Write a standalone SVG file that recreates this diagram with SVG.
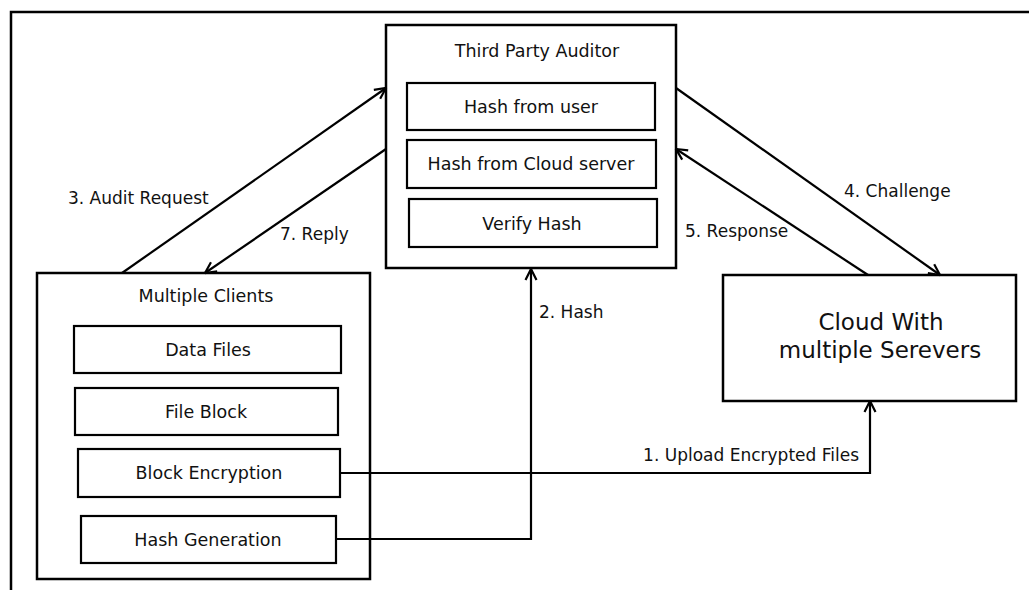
<svg xmlns="http://www.w3.org/2000/svg" width="1029" height="590" viewBox="0 0 1029 590">
<style>
.box{fill:#fff;stroke:#000;stroke-width:2.5}
.inner{fill:#fff;stroke:#000;stroke-width:2.2}
.t{font-family:"DejaVu Sans",Verdana,sans-serif;font-size:17.5px;fill:#111;text-anchor:middle}
.lbl{font-family:"DejaVu Sans",Verdana,sans-serif;font-size:17px;fill:#111}
.big{font-family:"DejaVu Sans",Verdana,sans-serif;font-size:23px;fill:#111;text-anchor:middle}
.c{fill:none;stroke:#000;stroke-width:2.2}
</style>
<defs>
<marker id="arr" viewBox="0 0 14 14" refX="13" refY="7" markerWidth="14" markerHeight="14" markerUnits="userSpaceOnUse" orient="auto">
<path d="M2,1.5 L13,7 L2,12.5" fill="none" stroke="#000" stroke-width="2.2"/>
</marker>
</defs>
<rect width="1029" height="590" fill="#fff"/>
<path d="M11,590 V12 H1029" fill="none" stroke="#000" stroke-width="2.5"/>

<g id="tpa">
<rect class="box" x="386" y="25" width="290" height="243"/>
<text class="t" x="537" y="57">Third Party Auditor</text>
<rect class="inner" x="407" y="83" width="248" height="47"/>
<text class="t" x="531" y="113">Hash from user</text>
<rect class="inner" x="407" y="140" width="249" height="48"/>
<text class="t" x="531" y="170">Hash from Cloud server</text>
<rect class="inner" x="409" y="199" width="248" height="48"/>
<text class="t" x="532" y="230">Verify Hash</text>
</g>

<g id="clients">
<rect class="box" x="37" y="273" width="333" height="306"/>
<text class="t" x="206" y="302">Multiple Clients</text>
<rect class="inner" x="74" y="326" width="267" height="47"/>
<text class="t" x="208" y="356">Data Files</text>
<rect class="inner" x="75" y="388" width="263" height="47"/>
<text class="t" x="206" y="418">File Block</text>
<rect class="inner" x="78" y="449" width="262" height="48"/>
<text class="t" x="209" y="479">Block Encryption</text>
<rect class="inner" x="81" y="516" width="255" height="47"/>
<text class="t" x="208" y="546">Hash Generation</text>
</g>

<g id="cloud">
<rect class="box" x="723" y="275" width="293" height="126"/>
<text class="big" x="881" y="330">Cloud With</text>
<text class="big" x="880" y="358">multiple Serevers</text>
</g>

<g id="connectors">
<line class="c" x1="122" y1="273" x2="386" y2="88" marker-end="url(#arr)"/>
<line class="c" x1="386" y1="149" x2="205" y2="273" marker-end="url(#arr)"/>
<line class="c" x1="676" y1="88" x2="940" y2="275" marker-end="url(#arr)"/>
<line class="c" x1="868" y1="275" x2="676" y2="149" marker-end="url(#arr)"/>
<polyline class="c" points="336,539 531,539 531,269" marker-end="url(#arr)"/>
<polyline class="c" points="340,473 870,473 870,401" marker-end="url(#arr)"/>
<text class="lbl" x="68" y="204">3. Audit Request</text>
<text class="lbl" x="280" y="240">7. Reply</text>
<text class="lbl" x="844" y="197">4. Challenge</text>
<text class="lbl" x="685" y="237">5. Response</text>
<text class="lbl" x="539" y="318">2. Hash</text>
<text class="lbl" x="859" y="461" text-anchor="end">1. Upload Encrypted Files</text>
</g>
</svg>
